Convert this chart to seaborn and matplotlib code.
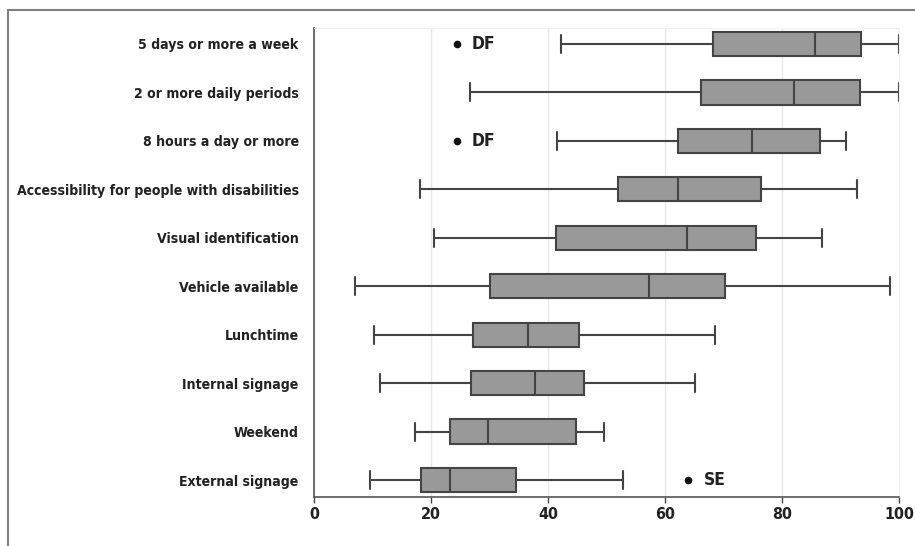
import numpy as np
import pandas as pd
import seaborn as sns
import matplotlib.pyplot as plt
from matplotlib.lines import Line2D

# Summary values (percent)
categories = [
    "5 days or more a week",
    "2 or more daily periods",
    "8 hours a day or more",
    "Accessibility for people with disabilities",
    "Visual identification",
    "Vehicle available",
    "Lunchtime",
    "Internal signage",
    "Weekend",
    "External signage",
]
whisker_low = [42.2, 26.7, 41.6, 18.1, 20.5, 7.0, 10.3, 11.3, 17.2, 9.6]
q1 = [68.2, 66.2, 62.3, 51.9, 41.3, 30.0, 27.2, 26.8, 23.2, 18.3]
median = [85.6, 82.1, 74.8, 62.2, 63.8, 57.2, 36.6, 37.7, 29.8, 23.3]
q3 = [93.5, 93.3, 86.5, 76.4, 75.6, 70.3, 45.3, 46.2, 44.8, 34.5]
whisker_high = [100.0, 100.0, 90.9, 92.9, 86.8, 98.5, 68.6, 65.2, 49.6, 52.9]
outlier_values = {"5 days or more a week": 24.4,
                  "8 hours a day or more": 24.4,
                  "External signage": 64.0}
outlier_labels = {"5 days or more a week": "DF",
                  "8 hours a day or more": "DF",
                  "External signage": "SE"}

# Build a small long table whose quartiles reproduce the summary values
rows = []
for i, cat in enumerate(categories):
    lo, hi = whisker_low[i], whisker_high[i]
    vals = [lo, q1[i], q1[i], median[i], median[i], q3[i], q3[i], hi, hi]
    out = outlier_values.get(cat)
    if out is not None and out < lo:
        vals = [out, lo, q1[i], median[i], median[i], q3[i], q3[i], hi, hi]
    elif out is not None:
        vals = [lo, lo, q1[i], median[i], median[i], q3[i], q3[i], hi, out]
    rows += [(cat, v) for v in vals]
df = pd.DataFrame(rows, columns=["item", "value"])

sns.set_style("white")
font = ["DejaVu Sans"]
plt.rcParams["font.family"] = font
plt.rcParams["font.stretch"] = "condensed"

fig = plt.figure(figsize=(9.15, 5.46), dpi=100)
ax = fig.add_axes([314 / 915, 1 - 497 / 546, 585 / 915, 469 / 546])

edge = "#444444"
sns.boxplot(data=df, x="value", y="item", order=categories, orient="h",
            color="#999999", linecolor=edge, linewidth=1.5, width=0.5,
            whis=1.5, fill=True, ax=ax,
            boxprops=dict(facecolor="#999999", edgecolor=edge),
            flierprops=dict(marker="o", markerfacecolor="#111111",
                            markeredgecolor="#111111", markersize=4.5))

# taller whisker caps like the original
for cont in ax.containers:
    if hasattr(cont, "caps"):
        for cap in cont.caps:
            y = np.mean(cap.get_ydata())
            cap.set_ydata([y - 0.185, y + 0.185])

for i, cat in enumerate(categories):
    if cat in outlier_values:
        ax.annotate(outlier_labels[cat], (outlier_values[cat], i),
                    xytext=(11, 0), textcoords="offset points",
                    va="center", ha="left", fontsize=12.5, fontweight="bold",
                    color="#222222", fontstretch="condensed")

ax.set_xlim(0, 100)
ax.set_ylim(9.35, -0.33)
ax.set_xticks(range(0, 101, 20))
ax.grid(axis="x", color="#e8e8e8", linewidth=1)
ax.set_axisbelow(True)
ax.set_xlabel("")
ax.set_ylabel("")
ax.tick_params(axis="y", length=0, pad=11, labelsize=10.1, labelcolor="#222222")
ax.tick_params(axis="x", length=4, width=1, color=edge, pad=3,
               labelsize=11.5, labelcolor="#222222", bottom=True)
for lab in ax.get_yticklabels() + ax.get_xticklabels():
    lab.set_fontweight("bold")
    lab.set_fontstretch("condensed")

for side in ["left", "bottom"]:
    ax.spines[side].set_color("#555555")
    ax.spines[side].set_linewidth(1.2)
for side in ["top", "right"]:
    ax.spines[side].set_color("#f0f0f0")

# outer frame of the original figure
fig.add_artist(Line2D([8 / 915, 1], [1 - 10 / 546] * 2, color="#808080",
                      linewidth=1.5, transform=fig.transFigure))
fig.add_artist(Line2D([8 / 915] * 2, [0, 1 - 10 / 546], color="#808080",
                      linewidth=1.5, transform=fig.transFigure))

fig.savefig("out.png", dpi=100)
